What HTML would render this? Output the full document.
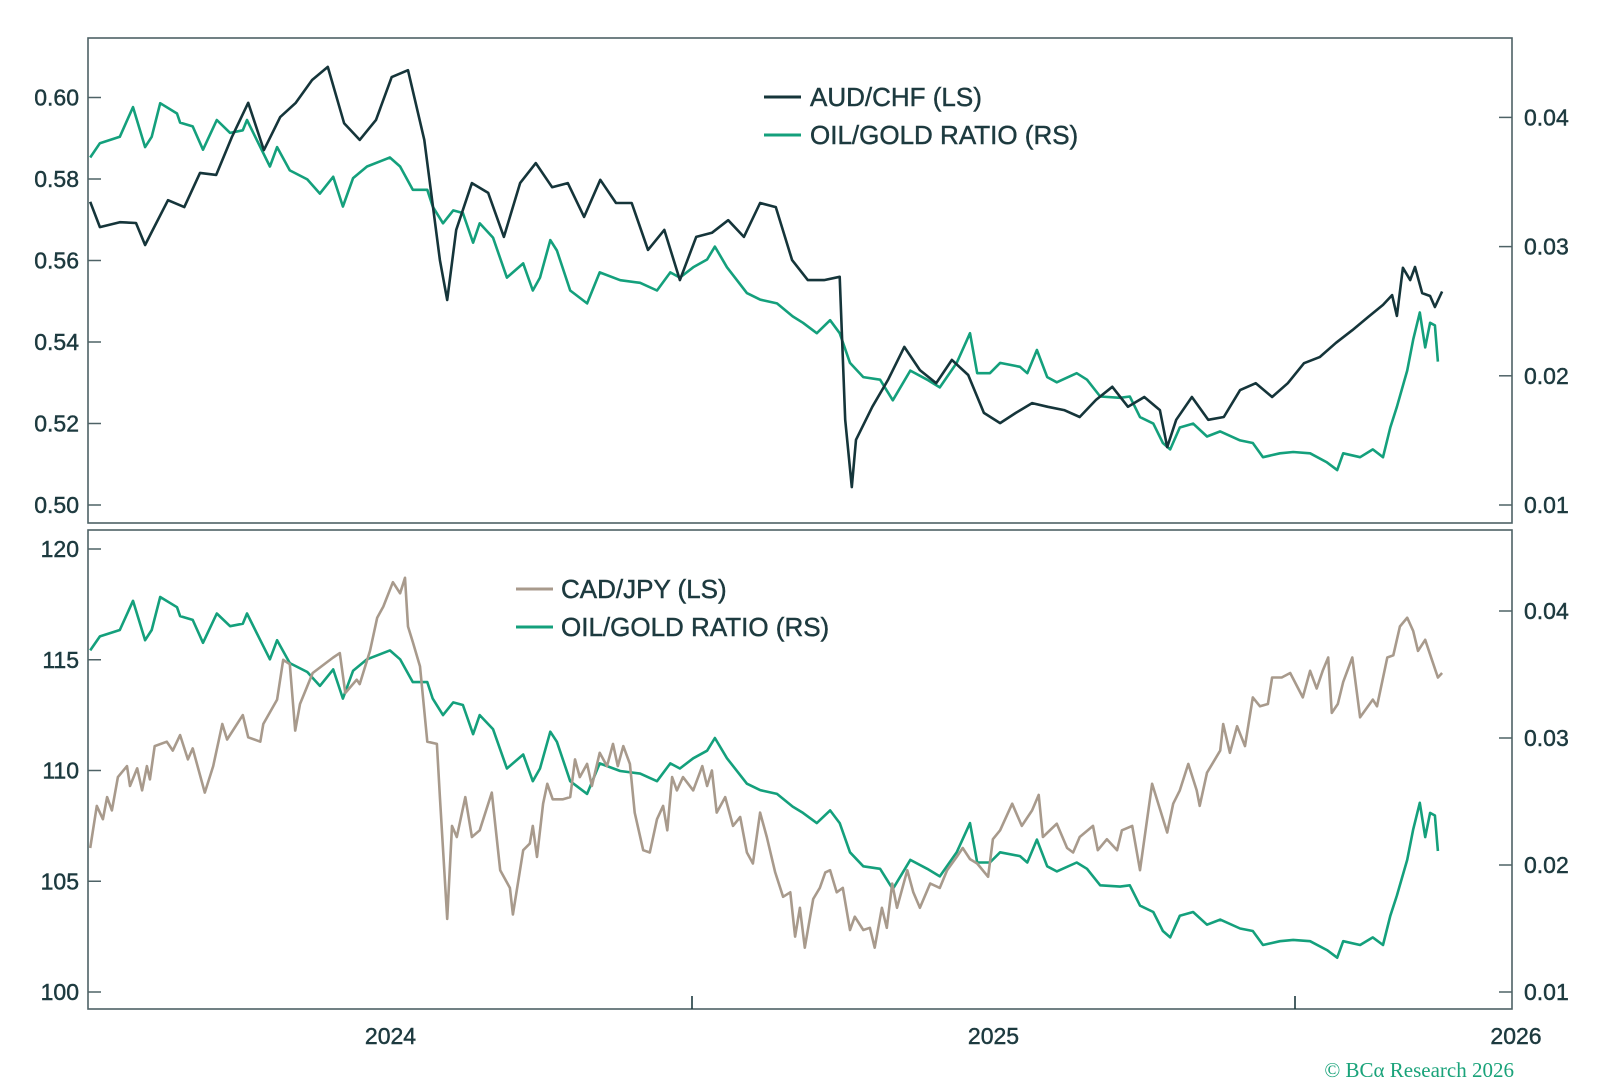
<!DOCTYPE html>
<html><head><meta charset="utf-8"><style>
html,body{margin:0;padding:0;background:#fff;}
svg{display:block;}
text{font-family:"Liberation Sans",sans-serif;stroke:#1d3a3f;stroke-width:0.45px;}
text.copy{stroke:none;}
</style></head><body>
<svg id="chart" width="1600" height="1080" viewBox="0 0 1600 1080" xmlns="http://www.w3.org/2000/svg">
<rect x="0" y="0" width="1600" height="1080" fill="#fff"/>
<g id="topPanel"></g>
<g id="botPanel"></g>
<g id="xaxis"></g>
<g>
<line x1="764" y1="97" x2="801" y2="97" stroke="#15353a" stroke-width="3"/>
<text x="810" y="106" font-size="26" fill="#1d3a3f">AUD/CHF (LS)</text>
<line x1="764" y1="135" x2="801" y2="135" stroke="#14a07c" stroke-width="3"/>
<text x="810" y="144" font-size="26" fill="#1d3a3f">OIL/GOLD RATIO (RS)</text>
</g>
<g>
<line x1="516" y1="589" x2="553" y2="589" stroke="#a89a8c" stroke-width="3"/>
<text x="561" y="598" font-size="26" fill="#1d3a3f">CAD/JPY (LS)</text>
<line x1="516" y1="627" x2="553" y2="627" stroke="#14a07c" stroke-width="3"/>
<text x="561" y="636" font-size="26" fill="#1d3a3f">OIL/GOLD RATIO (RS)</text>
</g>
<text class="copy" x="1514" y="1077" text-anchor="end" font-size="21" fill="#1aa37a" style="font-family:'Liberation Serif',serif">© BCα Research 2026</text>
</svg>
<script>
// ---- data (dates are years since 2024-01-01) ----
const audDates = [.002,.018,.051,.078,.093,.104,.131,.158,.184,.211,.237,.264,.290,.317,.343,.370,.396,.423,.449,.476,.502,.529,.556,.582,.594,.609,.635,.662,.688,.715,.741,.768,.794,.821,.848,.874,.900,.927,.954,.980,1.007,1.033,1.060,1.086,1.113,1.139,1.166,1.192,1.219,1.245,1.254,1.265,1.272,1.299,1.325,1.352,1.378,1.405,1.431,1.458,1.484,1.511,1.537,1.564,1.590,1.617,1.643,1.670,1.697,1.723,1.750,1.776,1.788,1.803,1.829,1.856,1.882,1.909,1.935,1.962,1.988,2.015,2.041,2.068,2.095,2.121,2.146,2.161,2.169,2.179,2.191,2.199,2.211,2.224,2.232,2.244];
const audChf = [0.5744,0.5682,0.5694,0.5692,0.5638,0.5670,0.5748,0.5731,0.5815,0.5810,0.5903,0.5987,0.5871,0.5952,0.5987,0.6043,0.6075,0.5937,0.5896,0.5945,0.6050,0.6067,0.5896,0.5601,0.5503,0.5675,0.5790,0.5766,0.5658,0.5790,0.5839,0.5780,0.5790,0.5707,0.5798,0.5741,0.5741,0.5626,0.5675,0.5552,0.5658,0.5668,0.5699,0.5658,0.5741,0.5731,0.5601,0.5552,0.5552,0.5560,0.5209,0.5044,0.5160,0.5241,0.5307,0.5388,0.5331,0.5299,0.5356,0.5319,0.5226,0.5201,0.5226,0.5250,0.5241,0.5233,0.5216,0.5258,0.5290,0.5241,0.5265,0.5233,0.5142,0.5209,0.5265,0.5209,0.5216,0.5282,0.5299,0.5265,0.5299,0.5348,0.5363,0.5398,0.5429,0.5461,0.5491,0.5515,0.5464,0.5582,0.5552,0.5584,0.5520,0.5513,0.5486,0.5524];
const oilDates = [.002,.018,.051,.073,.093,.104,.118,.146,.151,.172,.189,.212,.234,.255,.262,.284,.300,.312,.333,.362,.383,.405,.421,.438,.461,.499,.516,.537,.561,.570,.587,.604,.620,.637,.648,.670,.693,.720,.736,.748,.765,.776,.798,.826,.847,.881,.914,.942,.964,.980,1.002,1.025,1.038,1.058,1.091,1.113,1.141,1.167,1.184,1.207,1.229,1.245,1.262,1.284,1.312,1.333,1.362,1.390,1.411,1.439,1.461,1.473,1.494,1.511,1.544,1.556,1.572,1.589,1.605,1.638,1.655,1.677,1.710,1.726,1.743,1.765,1.781,1.793,1.809,1.831,1.854,1.876,1.909,1.930,1.947,1.975,1.997,2.025,2.053,2.070,2.080,2.108,2.129,2.146,2.158,2.169,2.186,2.196,2.207,2.216,2.224,2.232,2.237];
const oilGold = [.0369,.0380,.0385,.0408,.0377,.0385,.0411,.0403,.0396,.0393,.0375,.0398,.0388,.0390,.0398,.0377,.0362,.0377,.0359,.0352,.0341,.0354,.0331,.0353,.0362,.0369,.0362,.0344,.0344,.0331,.0318,.0328,.0326,.0303,.0318,.0307,.0276,.0287,.0266,.0276,.0305,.0297,.0266,.0256,.0280,.0274,.0272,.0266,.0280,.0276,.0284,.0290,.0300,.0284,.0264,.0259,.0256,.0246,.0241,.0233,.0243,.0233,.0210,.0199,.0197,.0181,.0204,.0197,.0191,.0210,.0233,.0202,.0202,.0210,.0207,.0202,.0220,.0199,.0195,.0202,.0197,.0184,.0183,.0184,.0168,.0163,.0148,.0143,.0160,.0163,.0153,.0157,.0150,.0148,.0137,.0140,.0141,.0140,.0133,.0127,.0140,.0137,.0143,.0137,.0160,.0176,.0204,.0228,.0249,.0222,.0241,.0239,.0211];
const cadDates = [.002,.013,.023,.030,.038,.048,.063,.068,.080,.088,.096,.101,.109,.129,.139,.151,.164,.172,.192,.206,.221,.229,.255,.264,.284,.289,.312,.322,.333,.342,.350,.371,.395,.405,.416,.425,.444,.449,.466,.478,.488,.504,.516,.524,.529,.537,.549,.561,.577,.582,.594,.602,.610,.624,.635,.648,.668,.682,.698,.703,.720,.731,.736,.743,.753,.760,.769,.786,.798,.806,.814,.826,.834,.847,.859,.869,.877,.886,.897,.905,.919,.930,.942,.952,.959,.967,.975,.985,1.002,1.017,1.025,1.033,1.041,1.055,1.068,1.080,1.091,1.101,1.113,1.124,1.138,1.151,1.163,1.171,1.179,1.187,1.201,1.212,1.221,1.229,1.240,1.250,1.262,1.270,1.284,1.295,1.303,1.315,1.323,1.332,1.340,1.357,1.367,1.378,1.395,1.411,1.423,1.439,1.449,1.461,1.473,1.491,1.499,1.511,1.531,1.547,1.564,1.575,1.582,1.605,1.622,1.632,1.643,1.665,1.673,1.688,1.705,1.713,1.730,1.743,1.763,1.788,1.798,1.809,1.823,1.837,1.842,1.854,1.876,1.881,1.892,1.904,1.917,1.930,1.942,1.955,1.962,1.978,1.992,2.013,2.025,2.036,2.046,2.055,2.061,2.071,2.080,2.095,2.108,2.129,2.136,2.153,2.163,2.174,2.186,2.196,2.204,2.216,2.227,2.237,2.244];
const cadJpy = [106.5,108.4,107.8,108.8,108.2,109.7,110.2,109.3,110.1,109.1,110.2,109.6,111.1,111.3,110.9,111.6,110.5,111.0,109.0,110.2,112.1,111.4,112.5,111.5,111.3,112.1,113.2,115.0,114.8,111.8,113.0,114.4,114.9,115.1,115.3,113.5,114.1,113.9,115.4,116.9,117.4,118.5,118.0,118.7,116.5,115.8,114.7,111.3,111.2,108.8,103.3,107.5,107.0,108.8,107.0,107.3,109.0,105.5,104.7,103.5,106.4,106.7,107.5,106.1,108.5,109.4,108.7,108.7,108.8,110.5,109.7,110.3,109.3,110.8,110.2,111.2,110.2,111.1,110.3,108.1,106.4,106.3,107.8,108.4,107.3,109.7,109.1,109.7,109.1,110.2,109.3,110.0,108.1,108.8,107.5,107.9,106.3,105.8,108.1,107.0,105.4,104.3,104.5,102.5,103.8,102.0,104.2,104.7,105.4,105.5,104.5,104.7,102.8,103.4,102.8,102.9,102.0,103.8,102.9,104.9,103.8,105.5,104.5,103.8,104.9,104.7,105.5,106.1,106.5,106.0,105.8,105.2,106.9,107.3,108.5,107.5,108.2,108.9,107.0,107.6,106.5,106.3,107.0,107.5,106.4,106.9,106.4,107.3,107.5,105.5,109.4,107.2,108.5,109.1,110.3,109.1,108.4,109.9,110.9,112.1,110.8,112.0,111.1,113.3,112.9,113.0,114.2,114.2,114.4,113.3,114.5,113.7,114.5,115.1,112.6,113.0,114.0,115.1,112.4,113.2,112.9,115.1,115.2,116.5,116.9,116.3,115.4,115.9,115.0,114.2,114.4];
const topLeftTicks = [0.50,0.52,0.54,0.56,0.58,0.60];
const topRightTicks = [0.01,0.02,0.03,0.04];
const botLeftTicks = [100,105,110,115,120];
const botRightTicks = [0.01,0.02,0.03,0.04];
const yearLabels = ["2024","2025","2026"];

// ---- scales ----
const X0 = 88, X1 = 1512;
const xOf = d => 89 + d * 603;
const yTopL = v => 505 - (v - 0.50) * 4075;
const yTopR = v => 505 - (v - 0.01) * 12920;
const yBotL = v => 992 - (v - 100) * 22.15;
const yBotR = v => 992 - (v - 0.01) * 12700;
const NS = "http://www.w3.org/2000/svg";
const AX = "#4e6266", TXT = "#1d3a3f";

function mk(tag, attrs, parent) {
  const e = document.createElementNS(NS, tag);
  for (const k in attrs) e.setAttribute(k, attrs[k]);
  parent.appendChild(e);
  return e;
}
function drawLine(dates, vals, yf, color, parent, name) {
  let d = "";
  const n = Math.min(dates.length, vals.length);
  for (let i = 0; i < n; i++) d += (i ? "L" : "M") + xOf(dates[i]).toFixed(1) + "," + yf(vals[i]).toFixed(1);
  const p = mk("path", {d: d, fill: "none", stroke: color, "stroke-width": 2.6, "stroke-linejoin": "round"}, parent);
  
  
}
function panel(g, yA, yB, lTicks, lf, lFmt, rTicks, rf, pre) {
  const box = mk("rect", {x: X0, y: yA, width: X1 - X0, height: yB - yA, fill: "none", stroke: AX, "stroke-width": 1.6}, g);
  
  
  lTicks.forEach(v => {
    const y = lf(v);
    const t = mk("line", {x1: X0, x2: X0 + 13, y1: y, y2: y, stroke: AX, "stroke-width": 1.5}, g);
    
    
    const l = mk("text", {x: 79, y: y + 8, "text-anchor": "end", "font-size": 23, fill: TXT}, g);
    l.textContent = lFmt(v);
    
    
  });
  rTicks.forEach(v => {
    const y = rf(v);
    const t = mk("line", {x1: X1 - 13, x2: X1, y1: y, y2: y, stroke: AX, "stroke-width": 1.5}, g);
    
    
    const l = mk("text", {x: 1524, y: y + 8, "font-size": 23, fill: TXT}, g);
    l.textContent = v.toFixed(2);
    
    
  });
}
const topG = document.getElementById("topPanel"), botG = document.getElementById("botPanel"), xa = document.getElementById("xaxis");
panel(topG, 38, 523, topLeftTicks, yTopL, v => v.toFixed(2), topRightTicks, yTopR, "top");
panel(botG, 530, 1009, botLeftTicks, yBotL, v => String(v), botRightTicks, yBotR, "bottom");
drawLine(oilDates, oilGold, yTopR, "#14a07c", topG, "oil-gold-line-top");
drawLine(audDates, audChf, yTopL, "#15353a", topG, "aud-chf-line");
drawLine(oilDates, oilGold, yBotR, "#14a07c", botG, "oil-gold-line-bottom");
drawLine(cadDates, cadJpy, yBotL, "#a89a8c", botG, "cad-jpy-line");
[1, 2].forEach(i => {
  const x = xOf(i);
  const t = mk("line", {x1: x, x2: x, y1: 996, y2: 1009, stroke: "#1d3a3f", "stroke-width": 1.6}, xa);
  
  
});
yearLabels.forEach((lab, i) => {
  const x = i < 2 ? (xOf(i) + xOf(i + 1)) / 2 : X1 + 4;
  const t = mk("text", {x: x, y: 1044, "text-anchor": "middle", "font-size": 23, fill: TXT}, xa);
  t.textContent = lab;
  
  
});
</script>
</body></html>
